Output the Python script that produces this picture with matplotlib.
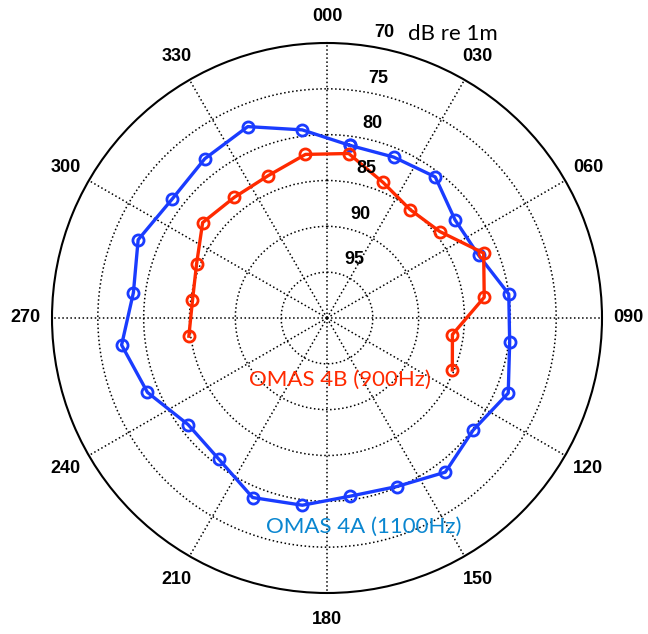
import numpy as np
import matplotlib.pyplot as plt
from matplotlib.transforms import offset_copy

# Bearings (deg, clockwise from north) and levels in dB re 1m
bearing_4a = [7.5, 22.5, 37.5, 52.5, 67.5, 82.5, 97.5, 112.5, 127.5, 142.5, 157.5, 172.5,
              187.5, 202.5, 217.5, 232.5, 247.5, 262.5, 277.5, 292.5, 307.5, 322.5, 337.5, 352.5]
level_4a = [81.0, 81.0, 80.6, 82.4, 82.1, 80.0, 79.9, 78.6, 79.9, 78.8, 80.1, 80.4,
            79.4, 78.8, 80.6, 80.9, 78.8, 77.4, 78.7, 77.7, 78.7, 78.1, 77.4, 79.3]

bearing_4b = [262.5, 277.5, 292.5, 307.5, 322.5, 337.5, 352.5, 7.5, 22.5, 37.5,
              52.5, 67.5, 82.5, 97.5, 112.5]
level_4b = [84.8, 85.2, 84.6, 82.9, 83.4, 83.2, 82.0, 81.9, 84.0, 85.1,
            84.5, 81.5, 82.7, 86.2, 85.2]

ring_levels = [70, 75, 80, 85, 90, 95]
spoke_angles = list(range(0, 360, 30))
spoke_labels = ['%03d' % a for a in spoke_angles]

blue = '#1a3cff'
red = '#ff2a00'

fig = plt.figure(figsize=(6.48, 6.34), dpi=100)
ax = fig.add_axes([52 / 648, 41 / 634, 550 / 648, 550 / 634], projection='polar')
ax.set_theta_zero_location('N')
ax.set_theta_direction(-1)
ax.set_ylim(100, 70)

ax.set_thetagrids(spoke_angles, [''] * len(spoke_angles))
ax.set_rgrids(ring_levels[1:], [''] * (len(ring_levels) - 1))
ax.grid(True, color='black', linestyle=':', linewidth=1.1)
ax.spines['polar'].set_color('black')
ax.spines['polar'].set_linewidth(1.5)
ax.tick_params(length=0)

# closed loop for 4A, open arc for 4B
th_a = np.deg2rad(bearing_4a + bearing_4a[:1])
r_a = level_4a + level_4a[:1]
ax.plot(th_a, r_a, color=blue, lw=2.4, marker='o', ms=8, mfc='none', mew=2)
ax.plot(np.deg2rad(bearing_4b), level_4b, color=red, lw=2.4, marker='o', ms=8,
        mfc='none', mew=2)

# bearing labels outside the rim
for a, lab in zip(spoke_angles, spoke_labels):
    ax.text(np.deg2rad(a), 67.1, lab, ha='center', va='center', fontsize=13,
            fontweight='bold', family='Liberation Sans', clip_on=False)

# level labels
lab_tr = offset_copy(ax.transData, fig=fig, x=19.5, y=0, units='dots')
for v in ring_levels:
    ax.text(np.deg2rad(7.5), v - 1.4, str(v), transform=lab_tr, ha='center', va='center',
            fontsize=13, fontweight='bold', family='Liberation Sans', clip_on=False)

fig.text(453 / 648, 1 - 34 / 634, 'dB re 1m', ha='center', va='center', fontsize=16,
         family='Lato')
fig.text(339.5 / 648, 1 - 380 / 634, 'OMAS 4B (900Hz)', ha='center', va='center',
         fontsize=16, family='Lato', color=red)
fig.text(363.5 / 648, 1 - 527 / 634, 'OMAS 4A (1100Hz)', ha='center', va='center',
         fontsize=16, family='Lato', color='#0a86d0')

fig.savefig('out.png', dpi=100)
